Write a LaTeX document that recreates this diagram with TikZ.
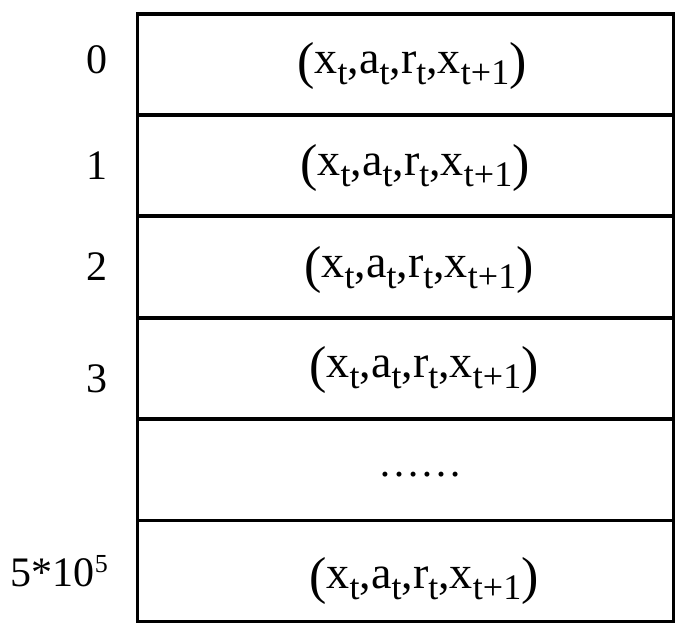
\documentclass[tikz,border=0pt]{standalone}
\usepackage{fontspec}
\setmainfont{Liberation Serif}
\newcommand\mysub[1]{\raisebox{-11pt}{\fontsize{36}{36}\selectfont #1}}
\newcommand\bigpar[1]{\raisebox{-5pt}{\fontsize{52}{52}\selectfont #1}}
\newcommand\tup{\bigpar{(}x\mysub{t},a\mysub{t},r\mysub{t},x\mysub{t+1}\bigpar{)}}
\begin{document}
\begin{tikzpicture}[x=1pt,y=-1pt,
  rowline/.style={line width=3.3pt},
  cell/.style={anchor=base,inner sep=0pt,font=\fontsize{46}{46}\selectfont},
  idx/.style={anchor=base east,inner sep=0pt,font=\fontsize{42}{42}\selectfont}]
\useasboundingbox (0,0) rectangle (698,637);
\draw[rowline] (137.7,14) rectangle (673.7,621.7);
\foreach \y in {115,216,318,419,520.7}
  \draw[rowline] (137.7,\y) -- (673.7,\y);
\node[idx] (l0) at (108,73) {0};
\node[idx] (l1) at (108,179) {1};
\node[idx] (l2) at (108,280) {2};
\node[idx] (l3) at (108,392) {3};
\node[idx] (l5) at (108,586) {5*10\raisebox{14pt}{\fontsize{26}{26}\selectfont 5}};
\node[cell] (c0) at (412,73) {\tup};
\node[cell] (c1) at (415,175) {\tup};
\node[cell] (c2) at (419,277) {\tup};
\node[cell] (c3) at (424,377) {\tup};
\node[cell,font=\fontsize{42}{42}\selectfont] (c4) at (420,476) {……};
\node[cell] (c5) at (424,588) {\tup};
\end{tikzpicture}
\end{document}
